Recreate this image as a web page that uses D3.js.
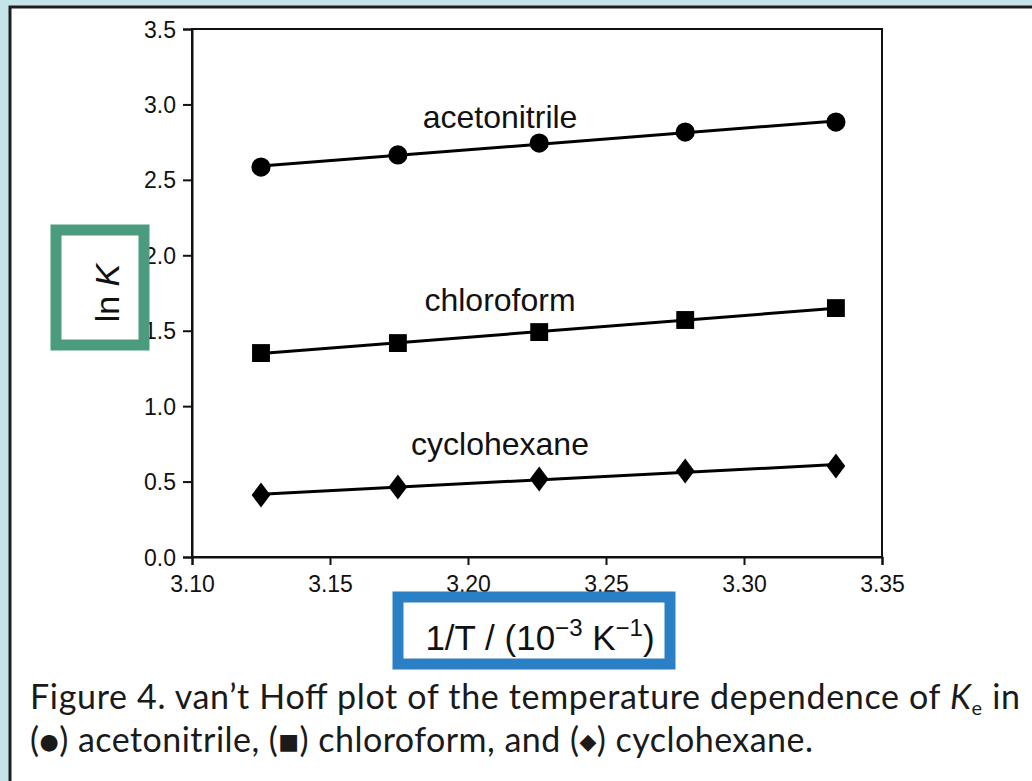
<!DOCTYPE html>
<html>
<head>
<meta charset="utf-8">
<script src="https://cdn.jsdelivr.net/npm/d3@7"></script>
<style>
  html, body { margin: 0; padding: 0; background: #c4e4ea; }
  svg { display: block; }
</style>
</head>
<body>
<svg id="chart" width="1032" height="781"></svg>
<script>
// data: 1/T in 10^-3 K^-1, ln K per solvent
let invT = [3.125, 3.1746, 3.2258, 3.2787, 3.3333]
let acetonitrile = [2.585, 2.665, 2.744, 2.817, 2.883]
let chloroform = [1.352, 1.418, 1.491, 1.571, 1.650]
let cyclohexane = [0.411, 0.464, 0.517, 0.570, 0.603]

let seriesNames = ['acetonitrile', 'chloroform', 'cyclohexane']
let seriesMarks = ['circle', 'square', 'diamond']
let labelAt = [[3.2116, 2.845], [3.2116, 1.633], [3.2116, 0.676]]

let xTicks = [3.10, 3.15, 3.20, 3.25, 3.30, 3.35]
let yTicks = [0.0, 0.5, 1.0, 1.5, 2.0, 2.5, 3.0, 3.5]

let series = [acetonitrile, chloroform, cyclohexane].map(function (vals, i) {
  return {
    name: seriesNames[i],
    mark: seriesMarks[i],
    label: labelAt[i],
    points: vals.map(function (v, j) { return { x: invT[j], y: v } })
  }
})

let svg = d3.select('#chart')

// white page panel with a dark rule along top and left
svg.append('rect')
  .attr('x', 10).attr('y', 7)
  .attr('width', 1040).attr('height', 800)
  .attr('fill', '#fff')
  .attr('stroke', '#1e1e1e')
  .attr('stroke-width', 3)

let x = d3.scaleLinear().domain([3.10, 3.35]).range([192, 882])
let y = d3.scaleLinear().domain([0, 3.5]).range([557, 29])

let font = 'Arial, "Liberation Sans", Helvetica, sans-serif'

// frame
svg.append('rect')
  .attr('x', x(3.10)).attr('y', y(3.5))
  .attr('width', x(3.35) - x(3.10)).attr('height', y(0) - y(3.5))
  .attr('fill', 'none').attr('stroke', '#111').attr('stroke-width', 2)

let xAxis = svg.append('g')
  .attr('transform', 'translate(0,' + y(0) + ')')
  .call(d3.axisBottom(x).tickValues(xTicks).tickFormat(d3.format('.2f')).tickSizeOuter(0).tickSize(8).tickPadding(6))
let yAxis = svg.append('g')
  .attr('transform', 'translate(' + x(3.10) + ',0)')
  .call(d3.axisLeft(y).tickValues(yTicks).tickFormat(d3.format('.1f')).tickSizeOuter(0).tickSize(9).tickPadding(7))

;[xAxis, yAxis].forEach(function (g) {
  g.attr('font-size', null).attr('font-family', null)
  g.select('.domain').attr('stroke', '#111').attr('stroke-width', 2)
  g.selectAll('.tick line').attr('stroke', '#111').attr('stroke-width', 2)
  g.selectAll('.tick text').attr('fill', '#111').style('font-family', font).style('font-size', '23px')
})
xAxis.selectAll('.tick text').attr('dy', '0.9em')
yAxis.selectAll('.tick text').attr('dy', '0.35em')

// least squares line through each series
function fit(pts) {
  let mx = d3.mean(pts, d => d.x), my = d3.mean(pts, d => d.y)
  let b = d3.sum(pts, d => (d.x - mx) * (d.y - my)) / d3.sum(pts, d => (d.x - mx) * (d.x - mx))
  return function (v) { return my + b * (v - mx) }
}

let line = d3.line().x(d => x(d.x)).y(d => y(d.y))

series.forEach(function (s) {
  let f = fit(s.points)
  let ends = d3.extent(s.points, d => d.x).map(v => ({ x: v, y: f(v) }))
  svg.append('path').datum(ends)
    .attr('d', line)
    .attr('fill', 'none').attr('stroke', '#000').attr('stroke-width', 3)

  let sym = s.mark === 'circle' ? d3.symbolCircle : s.mark === 'square' ? d3.symbolSquare : d3.symbolDiamond
  let size = s.mark === 'circle' ? 290 : s.mark === 'square' ? 320 : 180
  svg.append('g').selectAll('path').data(s.points).enter()
    .append('path')
    .attr('transform', d => 'translate(' + x(d.x) + ',' + y(d.y) + ')' + (s.mark === 'diamond' ? ' scale(1.3,1)' : ''))
    .attr('d', d3.symbol().type(sym).size(size))
    .attr('fill', '#000')

  svg.append('text')
    .attr('x', x(s.label[0])).attr('y', y(s.label[1]))
    .attr('text-anchor', 'middle')
    .style('font-family', font).style('font-size', '32px')
    .attr('fill', '#111')
    .text(s.name)
})

// highlighted axis titles
svg.append('rect')
  .attr('x', 56).attr('y', 230).attr('width', 88).attr('height', 115)
  .attr('fill', '#fff').attr('stroke', '#4b9b7f').attr('stroke-width', 11)
let yt = svg.append('text')
  .attr('transform', 'translate(119,293) rotate(-90)')
  .attr('text-anchor', 'middle')
  .style('font-family', font).style('font-size', '34px').attr('fill', '#111')
yt.append('tspan').text('ln ')
yt.append('tspan').style('font-style', 'italic').text('K')

svg.append('rect')
  .attr('x', 398).attr('y', 597).attr('width', 272).attr('height', 67)
  .attr('fill', '#fff').attr('stroke', '#2a7fc5').attr('stroke-width', 11)
let xt = svg.append('text')
  .attr('x', 540).attr('y', 650)
  .attr('text-anchor', 'middle')
  .style('font-family', font).style('font-size', '35px').attr('fill', '#111')
xt.append('tspan').text('1/T / (10')
xt.append('tspan').attr('dy', -14).style('font-size', '24px').text('\u22123')
xt.append('tspan').attr('dy', 14).text(' K')
xt.append('tspan').attr('dy', -14).style('font-size', '24px').text('\u22121')
xt.append('tspan').attr('dy', 14).text(')')

// caption
let capFont = 'Lato, "Noto Sans", sans-serif'
let c1 = svg.append('text')
  .attr('x', 30).attr('y', 709)
  .attr('textLength', 990).attr('lengthAdjust', 'spacing')
  .style('font-family', capFont).style('font-size', '34px').attr('fill', '#1a1a1a')
c1.append('tspan').text('Figure 4. van\u2019t Hoff plot of the temperature dependence of ')
c1.append('tspan').style('font-style', 'italic').text('K')
c1.append('tspan').attr('dy', 6).style('font-size', '20px').text('e')
c1.append('tspan').attr('dy', -6).text(' in')

let c2 = svg.append('text')
  .attr('x', 30).attr('y', 752)
  .attr('textLength', 783).attr('lengthAdjust', 'spacing')
  .style('font-family', capFont).style('font-size', '34px').attr('fill', '#1a1a1a')
let parts = [['(', ''], ['\u25CF', 'sym'], [') acetonitrile, (', ''], ['\u25A0', 'sym'], [') chloroform, and (', ''], ['\u25C6', 'sym'], [') cyclohexane.', '']]
parts.forEach(function (p) {
  let t = c2.append('tspan').text(p[0])
  if (p[1]) t.style('font-family', '"DejaVu Sans", sans-serif').style('font-size', '22px').attr('dy', -3)
  else t.attr('dy', c2.selectAll('tspan').size() > 1 ? 3 : 0)
})
</script>
</body>
</html>
